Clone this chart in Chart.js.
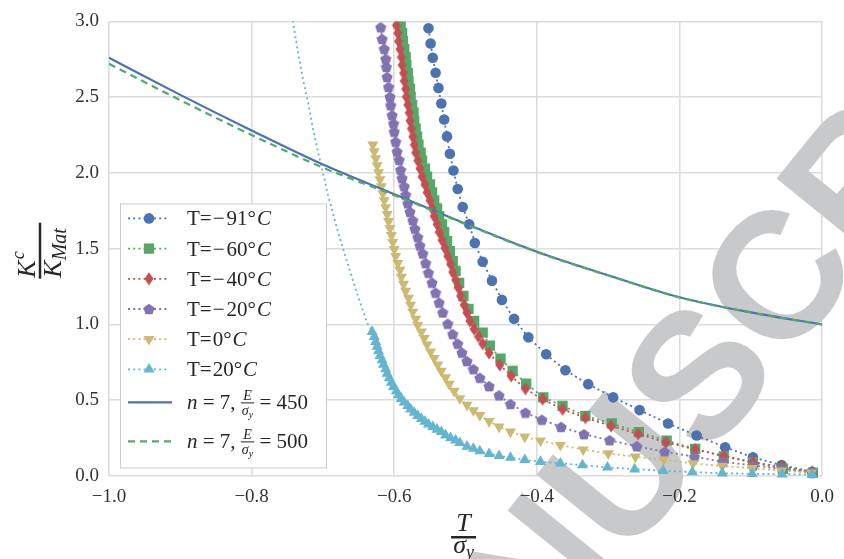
<!DOCTYPE html>
<html>
<head>
<meta charset="utf-8">
<script src="https://cdn.jsdelivr.net/npm/chart.js@4.4.0/dist/chart.umd.min.js"></script>
<style>
  html, body { margin: 0; padding: 0; background: #fff; }
  canvas { display: block; }
</style>
</head>
<body>
<canvas id="myChart" width="844" height="559"></canvas>
<script>
// values (x = T / sigma_y, y = K^c / K_Mat)
const temperatures = [-91, -60, -40, -20, 0, 20];
const ratios = [450, 500];

const xM91 = [-0.552, -0.549, -0.546, -0.542, -0.538, -0.534, -0.530, -0.526, -0.522, -0.517, -0.511, -0.504, -0.495, -0.487, -0.476, -0.463, -0.449, -0.432, -0.412, -0.387, -0.360, -0.328, -0.293, -0.256, -0.216, -0.176, -0.136, -0.097, -0.057, -0.014];
const yM91 = [2.955, 2.854, 2.760, 2.661, 2.561, 2.458, 2.353, 2.241, 2.127, 2.016, 1.894, 1.775, 1.661, 1.538, 1.414, 1.289, 1.162, 1.037, 0.915, 0.803, 0.698, 0.606, 0.519, 0.435, 0.346, 0.267, 0.190, 0.123, 0.072, 0.028];

const xM60 = [-0.591, -0.589, -0.588, -0.586, -0.584, -0.583, -0.581, -0.580, -0.578, -0.577, -0.575, -0.573, -0.572, -0.570, -0.568, -0.566, -0.563, -0.561, -0.557, -0.554, -0.550, -0.547, -0.544, -0.540, -0.537, -0.533, -0.530, -0.526, -0.522, -0.518, -0.514, -0.509, -0.503, -0.496, -0.488, -0.476, -0.466, -0.451, -0.434, -0.415, -0.391, -0.364, -0.332, -0.295, -0.257, -0.218, -0.178, -0.138, -0.097, -0.055, -0.013];
const yM60 = [2.974, 2.922, 2.869, 2.817, 2.764, 2.712, 2.659, 2.607, 2.554, 2.502, 2.449, 2.397, 2.344, 2.292, 2.239, 2.186, 2.134, 2.081, 2.029, 1.976, 1.924, 1.871, 1.819, 1.766, 1.714, 1.661, 1.609, 1.550, 1.484, 1.418, 1.353, 1.274, 1.188, 1.103, 1.024, 0.946, 0.860, 0.775, 0.693, 0.609, 0.519, 0.463, 0.396, 0.347, 0.289, 0.233, 0.179, 0.129, 0.089, 0.048, 0.022];

const xM40 = [-0.597, -0.595, -0.594, -0.592, -0.590, -0.589, -0.587, -0.586, -0.584, -0.583, -0.581, -0.579, -0.578, -0.576, -0.574, -0.572, -0.570, -0.567, -0.564, -0.561, -0.557, -0.554, -0.550, -0.547, -0.544, -0.540, -0.537, -0.533, -0.529, -0.525, -0.521, -0.518, -0.514, -0.510, -0.507, -0.502, -0.498, -0.494, -0.488, -0.482, -0.476, -0.467, -0.452, -0.436, -0.416, -0.392, -0.364, -0.332, -0.296, -0.258, -0.219, -0.178, -0.138, -0.097, -0.056, -0.014];
const yM40 = [2.974, 2.922, 2.869, 2.817, 2.764, 2.712, 2.659, 2.607, 2.554, 2.502, 2.449, 2.397, 2.344, 2.292, 2.239, 2.186, 2.134, 2.081, 2.029, 1.976, 1.924, 1.871, 1.819, 1.766, 1.714, 1.661, 1.609, 1.556, 1.504, 1.451, 1.399, 1.346, 1.294, 1.241, 1.188, 1.129, 1.077, 1.024, 0.970, 0.921, 0.873, 0.812, 0.733, 0.660, 0.575, 0.507, 0.440, 0.385, 0.330, 0.278, 0.222, 0.176, 0.133, 0.091, 0.061, 0.028];

const xM20 = [-0.619, -0.617, -0.614, -0.612, -0.611, -0.610, -0.608, -0.606, -0.605, -0.603, -0.601, -0.600, -0.598, -0.596, -0.593, -0.591, -0.589, -0.586, -0.584, -0.581, -0.578, -0.574, -0.571, -0.567, -0.564, -0.560, -0.556, -0.552, -0.547, -0.542, -0.537, -0.532, -0.525, -0.518, -0.511, -0.505, -0.498, -0.489, -0.480, -0.467, -0.453, -0.437, -0.416, -0.393, -0.366, -0.334, -0.298, -0.260, -0.221, -0.179, -0.139, -0.097, -0.056, -0.014];
const yM20 = [2.961, 2.884, 2.819, 2.753, 2.699, 2.633, 2.567, 2.502, 2.447, 2.381, 2.326, 2.272, 2.206, 2.141, 2.086, 2.020, 1.965, 1.911, 1.855, 1.799, 1.743, 1.687, 1.632, 1.576, 1.521, 1.468, 1.405, 1.341, 1.276, 1.210, 1.144, 1.079, 1.005, 0.936, 0.873, 0.814, 0.758, 0.705, 0.648, 0.593, 0.532, 0.475, 0.418, 0.372, 0.324, 0.276, 0.236, 0.196, 0.160, 0.127, 0.094, 0.069, 0.047, 0.023];

const xT0 = [-0.630, -0.628, -0.626, -0.624, -0.622, -0.620, -0.618, -0.616, -0.614, -0.612, -0.610, -0.608, -0.606, -0.604, -0.602, -0.600, -0.598, -0.595, -0.592, -0.590, -0.587, -0.584, -0.580, -0.577, -0.574, -0.570, -0.567, -0.562, -0.558, -0.554, -0.549, -0.544, -0.539, -0.534, -0.528, -0.523, -0.516, -0.508, -0.498, -0.489, -0.480, -0.467, -0.453, -0.437, -0.417, -0.395, -0.367, -0.335, -0.300, -0.262, -0.222, -0.181, -0.140, -0.098, -0.057, -0.015];
const yT0 = [2.186, 2.141, 2.095, 2.049, 2.003, 1.957, 1.911, 1.865, 1.819, 1.773, 1.727, 1.681, 1.635, 1.589, 1.543, 1.497, 1.451, 1.405, 1.359, 1.313, 1.267, 1.221, 1.175, 1.129, 1.083, 1.037, 0.995, 0.952, 0.909, 0.867, 0.821, 0.778, 0.735, 0.693, 0.650, 0.607, 0.561, 0.512, 0.469, 0.433, 0.401, 0.361, 0.325, 0.292, 0.259, 0.233, 0.204, 0.174, 0.148, 0.127, 0.107, 0.083, 0.066, 0.051, 0.035, 0.022];

// T=20: unmarked upper branch, then the marked part
const xT20Upper = [-0.744, -0.742, -0.735, -0.728, -0.721, -0.714, -0.707, -0.693, -0.683, -0.675, -0.663, -0.651, -0.638];
const yT20Upper = [3.073, 2.994, 2.797, 2.620, 2.469, 2.292, 2.141, 1.858, 1.681, 1.550, 1.366, 1.188, 1.011];
const xT20 = [-0.631, -0.628, -0.626, -0.624, -0.622, -0.620, -0.617, -0.615, -0.612, -0.610, -0.607, -0.604, -0.601, -0.597, -0.594, -0.590, -0.586, -0.581, -0.577, -0.572, -0.567, -0.562, -0.557, -0.552, -0.546, -0.540, -0.534, -0.528, -0.521, -0.514, -0.508, -0.498, -0.489, -0.480, -0.467, -0.453, -0.437, -0.417, -0.395, -0.367, -0.336, -0.301, -0.263, -0.223, -0.182, -0.140, -0.098, -0.056, -0.014];
const yT20 = [0.952, 0.919, 0.886, 0.854, 0.824, 0.794, 0.765, 0.735, 0.706, 0.676, 0.647, 0.617, 0.589, 0.561, 0.535, 0.510, 0.486, 0.463, 0.440, 0.418, 0.397, 0.378, 0.359, 0.341, 0.324, 0.307, 0.291, 0.269, 0.251, 0.235, 0.219, 0.195, 0.181, 0.164, 0.146, 0.133, 0.121, 0.107, 0.094, 0.083, 0.072, 0.057, 0.045, 0.035, 0.026, 0.018, 0.015, 0.012, 0.010];

const xFit = [-1.0, -0.9, -0.8, -0.7, -0.6, -0.5, -0.4, -0.3, -0.2, -0.1, 0.0];
const yFit450 = [2.76, 2.515, 2.28, 2.055, 1.86, 1.665, 1.48, 1.325, 1.18, 1.08, 1.00];
const yFit500 = [2.72, 2.48, 2.25, 2.035, 1.853, 1.662, 1.478, 1.323, 1.179, 1.079, 1.00];

const xTicks = [-1.0, -0.8, -0.6, -0.4, -0.2, 0.0];
const yTicks = [0.0, 0.5, 1.0, 1.5, 2.0, 2.5, 3.0];

// seaborn "deep" colours
const blue = '#4C72B0', green = '#55A868', red = '#C44E52', purple = '#8172B2', gold = '#CCB974', cyan = '#64B5CD';
const SERIF = '"Liberation Serif", "DejaVu Serif", serif';
const textColor = '#262626';

function pts(xs, ys) {
    return xs.map((x, i) => ({ x: x, y: ys[i] }));
}

// small canvases for marker shapes Chart.js does not have
function polyMarker(w, h, corners, color) {
    const c = document.createElement('canvas');
    c.width = w;
    c.height = h;
    const g = c.getContext('2d');
    g.fillStyle = color;
    g.beginPath();
    corners.forEach((p, i) => (i ? g.lineTo(p[0], p[1]) : g.moveTo(p[0], p[1])));
    g.closePath();
    g.fill();
    return c;
}
const diamondMarker = polyMarker(10, 14, [[5, 0.5], [9.5, 7], [5, 13.5], [0.5, 7]], red);
const pentagonMarker = polyMarker(12, 12, [0, 1, 2, 3, 4].map(k => {
    const a = -Math.PI / 2 + k * 2 * Math.PI / 5;
    return [6 + 5.9 * Math.cos(a), 6.55 + 5.9 * Math.sin(a)];
}), purple);

const markerSeries = [
    { xs: xM91, ys: yM91, color: blue, pointStyle: 'circle', radius: 5.3 },
    { xs: xM60, ys: yM60, color: green, pointStyle: 'rect', radius: 7.3 },
    { xs: xM40, ys: yM40, color: red, pointStyle: diamondMarker, radius: 5 },
    { xs: xM20, ys: yM20, color: purple, pointStyle: pentagonMarker, radius: 5 },
    { xs: xT0, ys: yT0, color: gold, pointStyle: 'triangle', radius: 6.4, rotation: 180 },
    { xs: xT20Upper.concat(xT20), ys: yT20Upper.concat(yT20), color: cyan, pointStyle: 'triangle', radius: 6.4, skip: xT20Upper.length }
];

const datasets = markerSeries.map((s, i) => ({
    label: 'T=' + temperatures[i],
    data: pts(s.xs, s.ys),
    showLine: true,
    borderColor: s.color,
    backgroundColor: s.color,
    borderWidth: 1.8,
    borderDash: [2, 3.2],
    pointStyle: s.pointStyle,
    pointRotation: s.rotation || 0,
    pointRadius: s.skip ? (ctx => (ctx.dataIndex < s.skip ? 0 : s.radius)) : s.radius,
    pointBorderWidth: 0,
    tension: 0,
    clip: { left: 0, top: 0, right: 10, bottom: 10 },
    order: 10 - i
}));

datasets.push({
    label: 'E/sy=' + ratios[0],
    data: pts(xFit, yFit450),
    showLine: true,
    borderColor: blue,
    borderWidth: 2.2,
    pointRadius: 0,
    cubicInterpolationMode: 'monotone',
    order: 2
});
datasets.push({
    label: 'E/sy=' + ratios[1],
    data: pts(xFit, yFit500),
    showLine: true,
    borderColor: green,
    borderWidth: 2.2,
    borderDash: [7, 5],
    pointRadius: 0,
    cubicInterpolationMode: 'monotone',
    order: 1
});

function drawRuns(ctx, x, y, runs) {
    runs.forEach(r => {
        ctx.font = r.font;
        ctx.fillText(r.text, x, y + (r.dy || 0));
        x += ctx.measureText(r.text).width + (r.gap || 0);
    });
    return x;
}

// greyed "MANUSCRIPT" stamp across the plot
const watermark = {
    id: 'watermark',
    beforeDatasetsDraw(chart) {
        const ctx = chart.ctx;
        const em = 180;
        ctx.save();
        ctx.translate(535, 571);
        ctx.rotate(-51 * Math.PI / 180);
        ctx.font = 'bold ' + em + 'px "Liberation Sans", Arial, sans-serif';
        ctx.fillStyle = '#c8c9cb';
        ctx.textBaseline = 'alphabetic';
        const before = ctx.measureText('MA').width + ctx.measureText('N').width / 2;
        ctx.fillText('MANUSCRIPT', -before, 0.358 * em);
        ctx.restore();
    }
};

// legend and the fraction-style axis titles
const overlay = {
    id: 'overlay',
    afterDraw(chart) {
        const ctx = chart.ctx;
        const area = chart.chartArea;
        ctx.save();

        // legend box
        const lx = area.left + 11, ly = area.top + 182;
        ctx.fillStyle = 'rgba(255,255,255,0.95)';
        ctx.fillRect(lx, ly, 207, 265);
        ctx.strokeStyle = '#cccccc';
        ctx.lineWidth = 1;
        ctx.strokeRect(lx + 0.5, ly + 0.5, 206, 264);

        const textX = lx + 67;
        markerSeries.forEach((s, i) => {
            const ry = ly + 15 + i * 30.2;
            ctx.strokeStyle = s.color;
            ctx.lineWidth = 1.8;
            ctx.setLineDash([2, 3.2]);
            ctx.beginPath();
            ctx.moveTo(lx + 8, ry);
            ctx.lineTo(lx + 48, ry);
            ctx.stroke();
            ctx.setLineDash([]);
            ctx.fillStyle = s.color;
            Chart.helpers.drawPoint(ctx, { pointStyle: s.pointStyle, radius: s.radius, rotation: s.rotation || 0, borderWidth: 0 }, lx + 29, ry);
            ctx.fillStyle = textColor;
            ctx.textBaseline = 'alphabetic';
            const t = temperatures[i];
            const runs = [{ text: 'T=', font: '21px ' + SERIF, gap: 1 }];
            if (t < 0) runs.push({ text: '\u2212', font: '21px ' + SERIF, gap: 2 });
            runs.push({ text: String(Math.abs(t)), font: '21px ' + SERIF });
            runs.push({ text: '\u00b0', font: '21px ' + SERIF, gap: 1 });
            runs.push({ text: 'C', font: 'italic 21px ' + SERIF });
            drawRuns(ctx, textX, ry + 7, runs);
        });

        [{ color: blue, dash: [], ry: ly + 199 }, { color: green, dash: [7, 5], ry: ly + 238 }].forEach((r, i) => {
            ctx.strokeStyle = r.color;
            ctx.lineWidth = 2.2;
            ctx.setLineDash(r.dash);
            ctx.beginPath();
            ctx.moveTo(lx + 8, r.ry);
            ctx.lineTo(lx + 52, r.ry);
            ctx.stroke();
            ctx.setLineDash([]);
            ctx.fillStyle = textColor;
            let x = drawRuns(ctx, textX, r.ry + 7, [
                { text: 'n', font: 'italic 21px ' + SERIF },
                { text: ' = 7, ', font: '21px ' + SERIF }
            ]);
            // small fraction E / sigma_y
            ctx.font = 'italic 14px ' + SERIF;
            const eW = ctx.measureText('E').width;
            const sW = ctx.measureText('\u03c3').width;
            ctx.font = 'italic 10px ' + SERIF;
            const yW = ctx.measureText('y').width;
            const fw = Math.max(eW, sW + yW) + 2;
            ctx.font = 'italic 14px ' + SERIF;
            ctx.fillText('E', x + (fw - eW) / 2, r.ry - 2.5);
            ctx.fillRect(x, r.ry, fw, 1);
            ctx.fillText('\u03c3', x + (fw - sW - yW) / 2, r.ry + 13);
            ctx.font = 'italic 10px ' + SERIF;
            ctx.fillText('y', x + (fw - sW - yW) / 2 + sW, r.ry + 16);
            drawRuns(ctx, x + fw, r.ry + 7, [{ text: ' = ' + ratios[i], font: '21px ' + SERIF }]);
        });

        // x title: T over sigma_y
        ctx.fillStyle = textColor;
        const cx = (area.left + area.right) / 2 - 2;
        ctx.font = 'italic 26px ' + SERIF;
        const tW = ctx.measureText('T').width;
        ctx.fillText('T', cx - tW / 2, area.bottom + 55);
        ctx.fillRect(cx - 12.5, area.bottom + 60, 25, 2.5);
        const sigW = ctx.measureText('\u03c3').width;
        ctx.font = 'italic 18px ' + SERIF;
        const subW = ctx.measureText('y').width;
        ctx.font = 'italic 26px ' + SERIF;
        const sx = cx - (sigW + subW) / 2;
        ctx.fillText('\u03c3', sx, area.bottom + 77);
        ctx.font = 'italic 18px ' + SERIF;
        ctx.fillText('y', sx + sigW, area.bottom + 82);

        // y title: K^c over K_Mat, rotated
        ctx.save();
        ctx.translate(40, (area.top + area.bottom) / 2 + 2);
        ctx.rotate(-Math.PI / 2);
        ctx.fillRect(-28, -1.25, 56, 2.5);
        ctx.font = 'italic 26px ' + SERIF;
        const kW = ctx.measureText('K').width;
        ctx.fillText('K', -27, -5);
        ctx.fillText('K', -27, 21);
        ctx.font = 'italic 18px ' + SERIF;
        ctx.fillText('c', -27 + kW + 1, -16);
        ctx.font = 'italic 20px ' + SERIF;
        ctx.fillText('Mat', -27 + kW, 26);
        ctx.restore();

        ctx.restore();
    }
};

const tickFont = { family: SERIF, size: 19 };
const gridColor = '#dcdcdc';

new Chart(document.getElementById('myChart'), {
    type: 'scatter',
    data: { datasets: datasets },
    options: {
        responsive: false,
        animation: false,
        events: [],
        layout: { padding: { top: 19, right: 16, bottom: 0, left: 0 } },
        plugins: {
            legend: { display: false },
            tooltip: { enabled: false }
        },
        scales: {
            x: {
                type: 'linear',
                min: -1,
                max: 0,
                afterFit: s => { s.height = 83; },
                afterBuildTicks: s => { s.ticks = xTicks.map(v => ({ value: v })); },
                grid: { color: gridColor, lineWidth: 1.6, drawTicks: false },
                border: { display: false },
                ticks: {
                    padding: 10,
                    color: '#333333',
                    font: tickFont,
                    maxRotation: 0,
                    autoSkip: false,
                    z: 1,
                    callback: v => (v < 0 ? '\u2212' : '') + Math.abs(v).toFixed(1)
                }
            },
            y: {
                type: 'linear',
                min: 0,
                max: 3,
                afterFit: s => { s.width = 109; },
                afterBuildTicks: s => { s.ticks = yTicks.map(v => ({ value: v })); },
                grid: { color: gridColor, lineWidth: 1.6, drawTicks: false },
                border: { display: false },
                ticks: {
                    padding: 10,
                    color: '#333333',
                    font: tickFont,
                    autoSkip: false,
                    z: 1,
                    callback: v => v.toFixed(1)
                }
            }
        }
    },
    plugins: [watermark, overlay]
});
</script>
</body>
</html>
